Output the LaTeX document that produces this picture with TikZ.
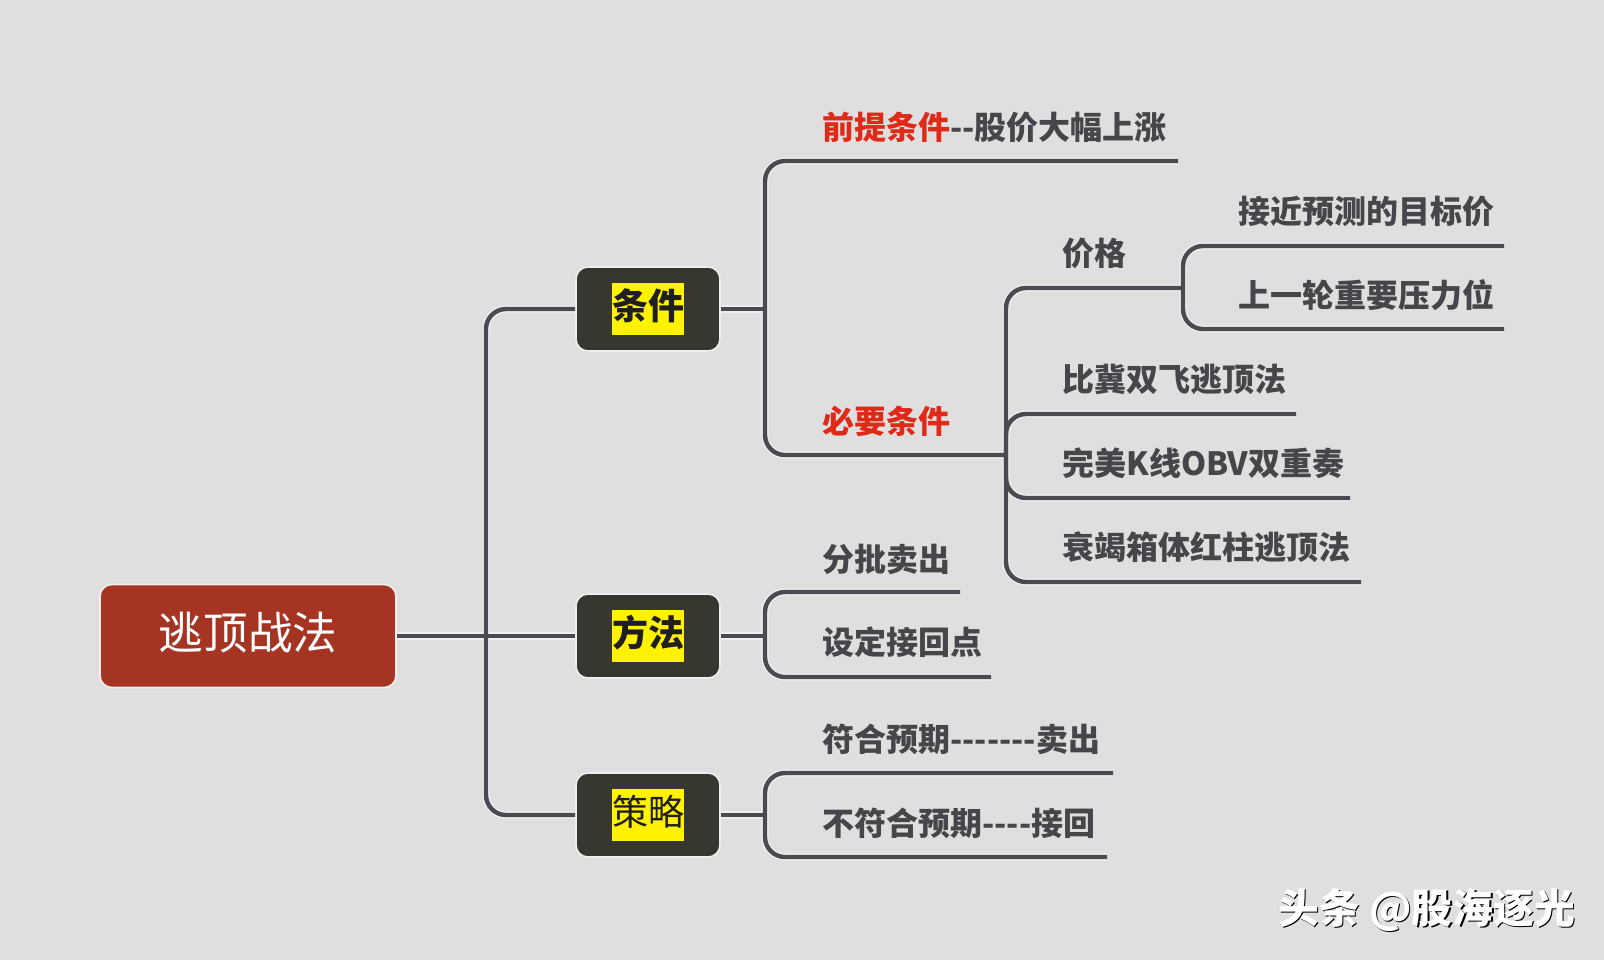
\documentclass[tikz,border=0pt]{standalone}
\usepackage{fontspec}
\newfontfamily\cjk{Noto Sans CJK SC}
\definecolor{bgc}{HTML}{DFDFDF}
\definecolor{linec}{HTML}{4A4B50}
\definecolor{txtc}{HTML}{46464A}
\definecolor{redc}{HTML}{DF2A1A}
\definecolor{rootc}{HTML}{A53423}
\definecolor{darkc}{HTML}{38372F}
\definecolor{haloc}{HTML}{EEEEEE}
\tikzset{
  connhalo/.style={draw=haloc,line width=3.6pt,rounded corners=10pt},
  connline/.style={draw=linec,line width=2.2pt,rounded corners=10pt},
  rootbox/.style={draw=haloc,line width=.8pt,fill=rootc,rounded corners=6pt,minimum width=148pt,minimum height=51.5pt,inner sep=0},
  darkbox/.style={draw=haloc,line width=.8pt,fill=darkc,rounded corners=6pt,minimum width=72pt,minimum height=42pt,inner sep=0},
  hl/.style={fill=yellow,minimum width=36pt,minimum height=26pt,inner sep=0,text=black!88,text height=15.3pt,text depth=4.7pt,font=\cjk\bfseries\fontsize{18}{18}\selectfont},
  hlthin/.style={hl,font=\cjk\fontsize{18}{18}\selectfont},
  lab/.style={anchor=west,inner sep=0,text=txtc,text height=14pt,text depth=2pt,font=\cjk\bfseries\fontsize{16}{16}\selectfont},
  roottext/.style={text=white,font=\cjk\fontsize{22.3}{22.3}\selectfont},
  wmshadow/.style={text=black,font=\cjk\bfseries\fontsize{20.4}{20.4}\selectfont},
  wmtop/.style={text=white,font=\cjk\bfseries\fontsize{20.4}{20.4}\selectfont},
}
\begin{document}
\begin{tikzpicture}[x=0.5pt,y=-0.5pt]
\fill[bgc] (0,0) rectangle (1604,960);
\useasboundingbox (0,0) rectangle (1604,960);
% junctions and free line ends
\coordinate (j0) at (486,636);
\coordinate (j1) at (765,309);
\coordinate (j2) at (765,636);
\coordinate (j3) at (765,815);
\coordinate (j4) at (1006,455);
\coordinate (j5) at (1183,288);
\coordinate (e1) at (1178,161);
\coordinate (e2) at (1504,246);
\coordinate (e3) at (1504,329);
\coordinate (e4) at (1296,414);
\coordinate (e5) at (1350,498);
\coordinate (e6) at (1361,582);
\coordinate (e7) at (960,592);
\coordinate (e8) at (991,677);
\coordinate (e9) at (1113,773);
\coordinate (e10) at (1107,857);
% boxes (named first, so that connectors can refer to them)
\node[rootbox] (root) at (248,636) {};
\node[darkbox] (bt) at (648,309) {};
\node[darkbox] (bm) at (648,636) {};
\node[darkbox] (bs) at (648,815) {};
% connectors: all halos first, then all lines
\foreach \st in {connhalo,connline}{
\draw[\st] (j0) |- (bt.west);
\draw[\st] (j0) |- (bs.west);
\draw[\st] (root.east) -- (bm.west);
\draw[\st] (bt.east) -- (j1);
\draw[\st] (j1) |- (e1);
\draw[\st] (j1) |- (j4);
\draw[\st] (j4) |- (j5);
\draw[\st] (j5) |- (e2);
\draw[\st] (j5) |- (e3);
\draw[\st] (j4) |- (e4);
\draw[\st] (j4) |- (e5);
\draw[\st] (j4) |- (e6);
\draw[\st] (bm.east) -- (j2);
\draw[\st] (j2) |- (e7);
\draw[\st] (j2) |- (e8);
\draw[\st] (bs.east) -- (j3);
\draw[\st] (j3) |- (e9);
\draw[\st] (j3) |- (e10);
}
% box labels
\node[roottext] (rootl) at (248,633) {逃顶战法};
\node[hl] (lt) at (648,309) {条件};
\node[hl] (lm) at (648,636) {方法};
\node[hlthin] (ls) at (648,815) {策略};
% labels
\node[lab] (t1) at (822,127) {\textcolor{redc}{前提条件}{-}{-}股价大幅上涨};
\node[lab] (t2) at (822,421) {\textcolor{redc}{必要条件}};
\node[lab] (t3) at (1062,253) {价格};
\node[lab] (t4) at (1238,211) {接近预测的目标价};
\node[lab] (t5) at (1238,295) {上一轮重要压力位};
\node[lab] (t6) at (1062,379) {比冀双飞逃顶法};
\node[lab] (t7) at (1062,463) {完美K线OBV双重奏};
\node[lab] (t8) at (1062,547) {衰竭箱体红柱逃顶法};
\node[lab] (t9) at (822,559) {分批卖出};
\node[lab] (t10) at (822,642) {设定接回点};
\node[lab] (t11) at (822,739) {符合预期{-}{-}{-}{-}{-}{-}{-}卖出};
\node[lab] (t12) at (822,823) {不符合预期{-}{-}{-}{-}接回};
% watermark
\node[wmshadow,anchor=west,inner sep=0] (w0) at (1279.5,911.5) {头条 @股海逐光};
\node[wmtop,anchor=west,inner sep=0] (w1) at (1278,910) {头条 @股海逐光};
\end{tikzpicture}
\end{document}
